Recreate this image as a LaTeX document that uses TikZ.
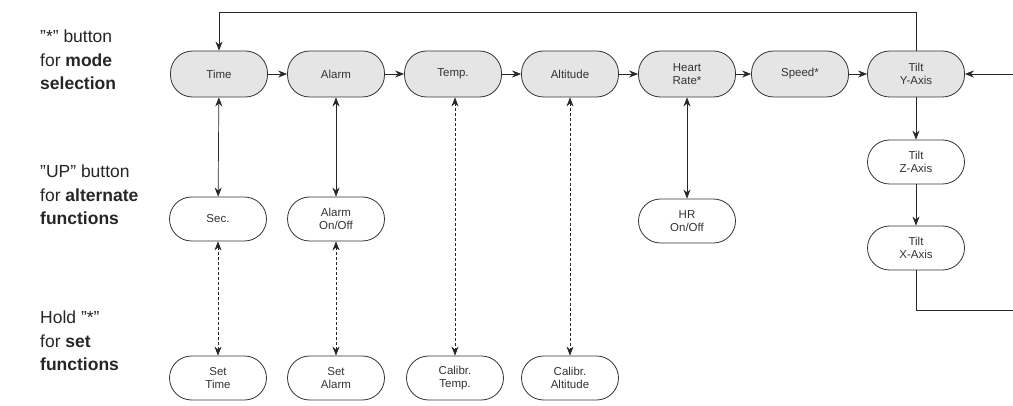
\documentclass[tikz,border=0pt]{standalone}
\usepackage{fontspec}
\setmainfont{Liberation Sans}
\usetikzlibrary{arrows.meta}
\newcommand{\dqm}{\symbol{34}}
\begin{document}
\begin{tikzpicture}[x=1pt,y=-1pt,
  box/.style={draw=black!80, line width=0.8pt, rounded corners=22pt, minimum width=97pt, minimum height=46pt, align=center, font=\fontsize{11.5}{13}\selectfont, text=black!80, inner sep=1pt},
  topbox/.style={box, fill=black!10},
  lowbox/.style={box, fill=white, minimum height=44pt},
  conn/.style={draw=black!85, line width=0.7pt, -{Stealth[length=9pt,width=7pt]}},
  both/.style={conn, {Stealth[length=9pt,width=7pt]}-{Stealth[length=9pt,width=7pt]}},
  dboth/.style={both, dash pattern=on 3pt off 2pt},
  lbl/.style={anchor=west, align=left, font=\fontsize{17.5}{23.5}\selectfont, text=black!85, inner sep=0pt}
]
\useasboundingbox (0,0) rectangle (1013,406);
% left labels
\node[lbl] (l1) at (40,60) {\dqm*\dqm{} button\\for \textbf{mode}\\\textbf{selection}};
\node[lbl] (l2) at (40,195) {\dqm UP\dqm{} button\\for \textbf{alternate}\\\textbf{functions}};
\node[lbl] (l3) at (40,341) {Hold \dqm*\dqm\\for \textbf{set}\\\textbf{functions}};
% top row
\node[topbox] (time) at (219,74) {Time};
\node[topbox] (alarm) at (336,74) {Alarm};
\node[topbox] (temp) at (453,74) {Temp.};
\node[topbox] (alt) at (570,74) {Altitude};
\node[topbox] (heart) at (687,74) {Heart\\Rate*};
\node[topbox] (speed) at (800,74) {Speed*};
\node[topbox] (tilty) at (916,74) {Tilt\\Y-Axis};
% second row
\node[lowbox] (sec) at (218,219) {Sec.};
\node[lowbox] (alonoff) at (336,219) {Alarm\\On/Off};
\node[lowbox] (hronoff) at (687,221) {HR\\On/Off};
\node[lowbox] (tiltz) at (916,162) {Tilt\\Z-Axis};
\node[lowbox] (tiltx) at (916,248) {Tilt\\X-Axis};
% third row
\node[lowbox] (settime) at (218,378) {Set\\Time};
\node[lowbox] (setalarm) at (336,378) {Set\\Alarm};
\node[lowbox] (caltemp) at (455,378) {Calibr.\\Temp.};
\node[lowbox] (calalt) at (570,378) {Calibr.\\Altitude};
% coordinates for loop ends
\coordinate (rin) at (1013,74);
\coordinate (rout) at (1013,310);
% top row chain
\draw[conn] (time) -- (alarm);
\draw[conn] (alarm) -- (temp);
\draw[conn] (temp) -- (alt);
\draw[conn] (alt) -- (heart);
\draw[conn] (heart) -- (speed);
\draw[conn] (speed) -- (tilty);
\draw[conn] (tilty.north) |- (219,12) -- (time.north);
\draw[conn] (rin) -- (tilty.east);
\draw[conn] (tilty) -- (tiltz);
\draw[conn] (tiltz) -- (tiltx);
\draw[draw=black!85, line width=0.7pt] (tiltx.south) |- (rout);
% verticals
\draw[both] (time) -- (sec);
\draw[both] (alarm) -- (alonoff);
\draw[both] (heart) -- (hronoff);
\draw[dboth] (sec) -- (settime);
\draw[dboth] (alonoff) -- (setalarm);
\draw[dboth] (temp.south -| caltemp.north) -- (caltemp);
\draw[dboth] (alt) -- (calalt);
\end{tikzpicture}
\end{document}
